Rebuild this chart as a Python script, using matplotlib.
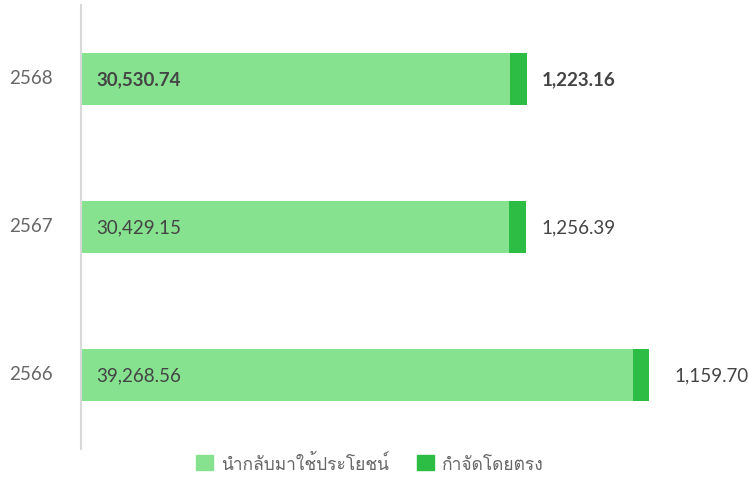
import matplotlib
matplotlib.use('Agg')
import matplotlib.pyplot as plt
from matplotlib import font_manager
from matplotlib.ft2font import FT2Font
from matplotlib.patches import Patch
from matplotlib.transforms import ScaledTranslation

years = ['2566', '2567', '2568']
reused = [39268.56, 30429.15, 30530.74]
disposed = [1159.70, 1256.39, 1223.16]
series_names = ['นำกลับมาใช้ประโยชน์', 'กำจัดโดยตรง']

light = '#86E28F'
dark = '#2DBD44'

# look for any installed font that covers Thai
thai_font = None
for f in font_manager.fontManager.ttflist:
    try:
        if 0x0E01 in FT2Font(f.fname).get_charmap():
            thai_font = f.name
            break
    except Exception:
        pass
families = ['Lato']
if thai_font:
    families.append(thai_font)
families.append('DejaVu Sans')
plt.rcParams['font.family'] = families

fig = plt.figure(figsize=(7.49, 5.02), dpi=100)
ax = fig.add_axes([81 / 749, 52 / 502, 639 / 749, 444 / 502])

pos = range(len(years))
ax.barh(pos, reused, height=0.358, color=light)
ax.barh(pos, disposed, left=reused, height=0.358, color=dark)

ax.set_xlim(0, 45450)
ax.set_ylim(-0.5, 2.5)
ax.set_yticks(list(pos))
ax.set_yticklabels(years, fontsize=13.5, color='#666666')
ax.tick_params(axis='y', length=0, pad=20)
# year labels sit a little above the bar centres
lift = ScaledTranslation(0, 3 / 100, fig.dpi_scale_trans)
for lab in ax.get_yticklabels():
    lab.set_transform(lab.get_transform() + lift)
ax.set_xticks([])
for s in ['top', 'right', 'bottom']:
    ax.spines[s].set_visible(False)
ax.spines['left'].set_color('#d9d9d9')
ax.spines['left'].set_linewidth(1.5)

offsets = [18, 10.5, 10.5]
for i in pos:
    weight = 'bold' if i == len(years) - 1 else 'normal'
    ax.annotate(f'{reused[i]:,.2f}', (0, i), xytext=(11, 0), textcoords='offset points',
                va='center', ha='left', fontsize=13.5, color='#444444', fontweight=weight)
    ax.annotate(f'{disposed[i]:,.2f}', (reused[i] + disposed[i], i), xytext=(offsets[i], 0),
                textcoords='offset points', va='center', ha='left', fontsize=13.5,
                color='#444444', fontweight=weight)

handles = [Patch(color=light), Patch(color=dark)]
fig.legend(handles, series_names, loc='center', bbox_to_anchor=(370 / 749, 1 - 463 / 502),
           ncol=2, frameon=False, fontsize=12.5, handlelength=1.0, handleheight=1.0,
           columnspacing=1.6, handletextpad=0.45, labelcolor='#666666')

fig.savefig('out.png', dpi=100)
